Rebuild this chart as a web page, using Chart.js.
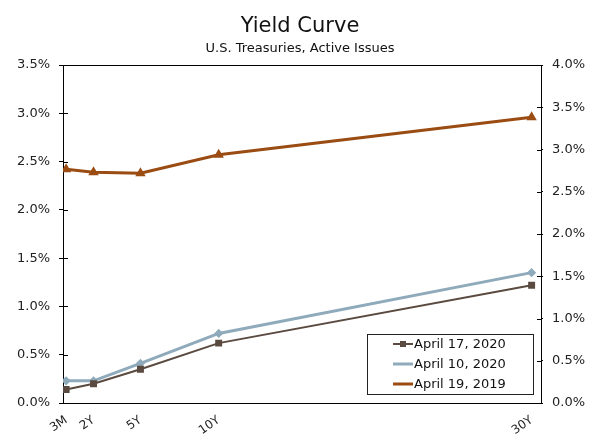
<!DOCTYPE html>
<html>
<head>
<meta charset="utf-8">
<script src="https://cdn.jsdelivr.net/npm/chart.js@4"></script>
<style>
  html, body { margin: 0; padding: 0; background: #fff; }
  #wrap { width: 600px; height: 440px; }
</style>
</head>
<body>
<div id="wrap"><canvas id="yieldChart"></canvas></div>
<script>
// maturities in years and their labels
const maturities = [0.25, 2, 5, 10, 30];
const maturityLabels = ['3M', '2Y', '5Y', '10Y', '30Y'];

// yields in percent
const apr17_2020 = [0.14, 0.20, 0.35, 0.62, 1.22];
const apr10_2020 = [0.23, 0.23, 0.41, 0.72, 1.35];
const apr19_2019 = [2.42, 2.39, 2.38, 2.57, 2.96];

const seriesLabels = ['April 17, 2020', 'April 10, 2020', 'April 19, 2019'];

function points(values) {
    return values.map((v, i) => ({ x: maturities[i], y: v }));
}

const FONT = 'DejaVu Sans, Verdana, sans-serif';

// ticks that cross the axis lines + top border line
const framePlugin = {
    id: 'frame',
    afterDraw(chart) {
        const ctx = chart.ctx;
        const a = chart.chartArea;
        ctx.save();
        ctx.strokeStyle = '#000';
        ctx.lineWidth = 1;
        ctx.beginPath();
        ctx.moveTo(a.left, a.top + 0.5);
        ctx.lineTo(a.right, a.top + 0.5);
        chart.scales.y.ticks.forEach(t => {
            const py = Math.round(chart.scales.y.getPixelForValue(t.value)) + 0.5;
            ctx.moveTo(a.left, py);
            ctx.lineTo(a.left + 5, py);
        });
        chart.scales.y2.ticks.forEach(t => {
            const py = Math.round(chart.scales.y2.getPixelForValue(t.value)) + 0.5;
            ctx.moveTo(a.right - 4, py);
            ctx.lineTo(a.right, py);
        });
        ctx.stroke();
        ctx.restore();
    }
};

// boxed legend in the lower right of the plot
const boxLegend = {
    id: 'boxLegend',
    afterDraw(chart) {
        const ctx = chart.ctx;
        const x0 = 367, y0 = 334, w = 166, h = 60;
        ctx.save();
        ctx.fillStyle = '#fff';
        ctx.fillRect(x0, y0, w, h);
        ctx.strokeStyle = '#222';
        ctx.lineWidth = 1;
        ctx.strokeRect(x0 + 0.5, y0 + 0.5, w, h);
        ctx.font = '13px ' + FONT;
        ctx.textBaseline = 'middle';
        chart.data.datasets.forEach((ds, i) => {
            const cy = y0 + 10 + i * 20;
            ctx.strokeStyle = ds.borderColor;
            ctx.lineWidth = ds.borderWidth;
            ctx.beginPath();
            ctx.moveTo(x0 + 26, cy);
            ctx.lineTo(x0 + 46, cy);
            ctx.stroke();
            ctx.fillStyle = ds.borderColor;
            if (ds.pointStyle === 'rect') ctx.fillRect(x0 + 33, cy - 3, 6, 6);
            ctx.fillStyle = '#111';
            ctx.fillText(ds.label, x0 + 47, cy + 1);
        });
        ctx.restore();
    }
};

const ctx = document.getElementById('yieldChart').getContext('2d');
new Chart(ctx, {
    type: 'line',
    data: {
        datasets: [{
            label: seriesLabels[0],
            data: points(apr17_2020),
            borderColor: '#5a4a40',
            backgroundColor: '#5a4a40',
            borderWidth: 2,
            pointStyle: 'rect',
            pointRadius: 3.5,
            yAxisID: 'y'
        }, {
            label: seriesLabels[1],
            data: points(apr10_2020),
            borderColor: '#8eaabb',
            backgroundColor: '#8eaabb',
            borderWidth: 3,
            pointStyle: 'rectRot',
            pointRadius: 2.5,
            yAxisID: 'y'
        }, {
            label: seriesLabels[2],
            data: points(apr19_2019),
            borderColor: '#9a4c12',
            backgroundColor: '#9a4c12',
            borderWidth: 3,
            pointStyle: 'triangle',
            pointRadius: 3,
            yAxisID: 'y'
        }]
    },
    options: {
        responsive: true,
        maintainAspectRatio: false,
        animation: false,
        layout: { padding: 0 },
        plugins: {
            legend: { display: false },
            tooltip: { enabled: false },
            title: {
                display: true,
                text: 'Yield Curve',
                color: '#111',
                font: { family: FONT, size: 21, weight: 'normal' },
                padding: { top: 14, bottom: 1 }
            },
            subtitle: {
                display: true,
                text: 'U.S. Treasuries, Active Issues',
                color: '#111',
                font: { family: FONT, size: 13 },
                padding: { top: 1, bottom: 8.2 }
            }
        },
        scales: {
            x: {
                type: 'linear',
                min: 0.05,
                max: 30.6,
                afterBuildTicks: scale => {
                    scale.ticks = maturities.map(v => ({ value: v }));
                },
                afterFit: scale => { scale.height = 37; },
                ticks: {
                    autoSkip: false,
                    minRotation: 35,
                    maxRotation: 35,
                    padding: 2,
                    color: '#222',
                    font: { family: FONT, size: 12 },
                    callback: v => maturityLabels[maturities.indexOf(v)]
                },
                grid: { display: false },
                border: { display: true, color: '#000', width: 1 }
            },
            y: {
                position: 'left',
                min: 0,
                max: 3.5,
                afterFit: scale => { scale.width = 63; },
                ticks: {
                    stepSize: 0.5,
                    padding: 9,
                    color: '#222',
                    font: { family: FONT, size: 13 },
                    callback: v => v.toFixed(1) + '%'
                },
                grid: { drawOnChartArea: false, tickLength: 4, color: '#000' },
                border: { color: '#000', width: 1 }
            },
            y2: {
                position: 'right',
                min: 0,
                max: 4,
                afterFit: scale => { scale.width = 59; },
                ticks: {
                    stepSize: 0.5,
                    padding: 9,
                    color: '#222',
                    font: { family: FONT, size: 13 },
                    callback: v => v.toFixed(1) + '%'
                },
                grid: { drawOnChartArea: false, tickLength: 2, color: '#000' },
                border: { color: '#000', width: 1 }
            }
        }
    },
    plugins: [framePlugin, boxLegend]
});
</script>
</body>
</html>
